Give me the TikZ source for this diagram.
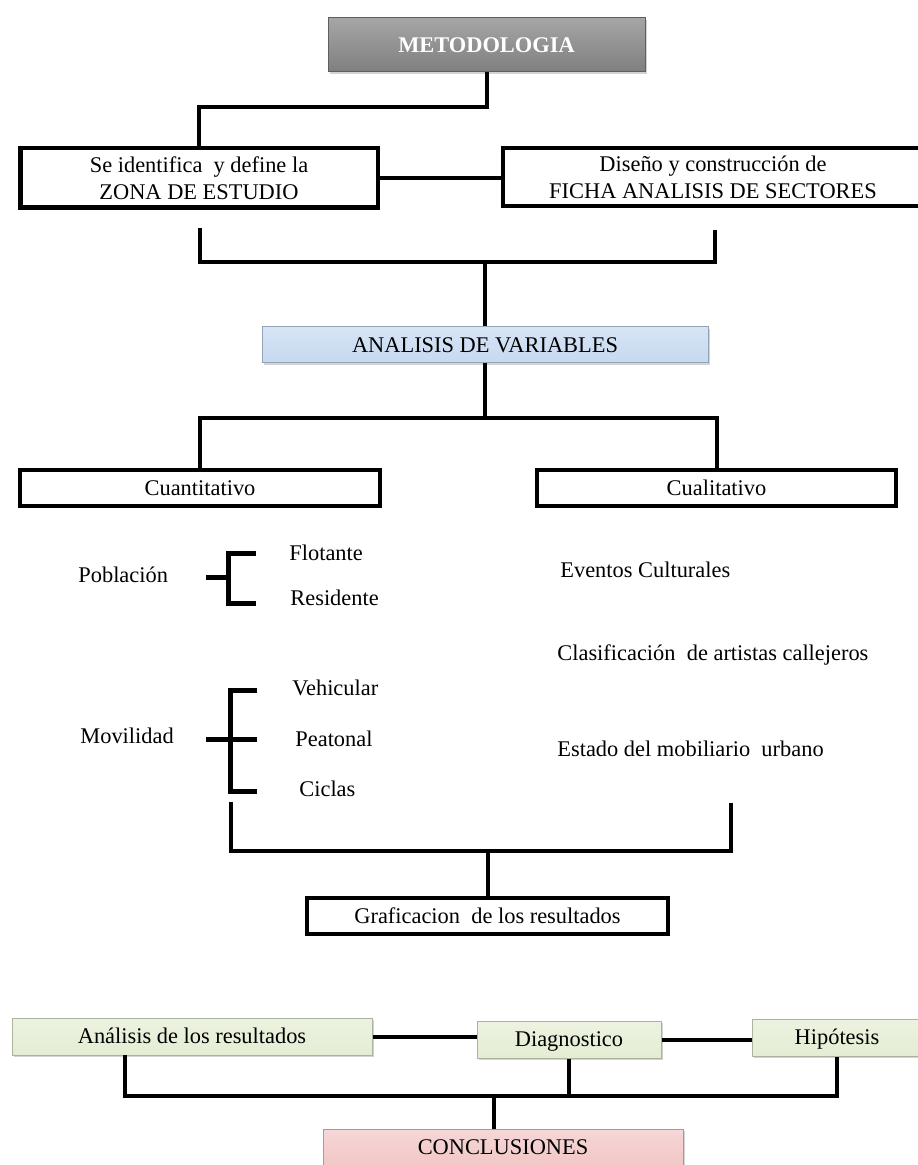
\documentclass[tikz,border=0pt]{standalone}
\usepackage{fontspec}
\setmainfont{Liberation Serif}
\usetikzlibrary{positioning,shadows}
\definecolor{gris}{HTML}{7F7F7F}
\definecolor{azul}{HTML}{C6D9F1}
\definecolor{verde}{HTML}{E4EDD3}
\definecolor{rosa}{HTML}{F2C6C6}
\tikzset{every node/.style={font=\fontsize{11.2}{13.6}\selectfont},
  sombra/.style={drop shadow={opacity=.35,shadow xshift=1.2pt,shadow yshift=-1.2pt}},
  linea/.style={text height=7.4pt,text depth=0pt},
  caja/.style={draw=black,line width=2.25pt,fill=white,inner sep=0pt,align=center,sombra},
  fondo/.style={draw=#1!75!black,line width=.5pt,top color=#1!70!white,bottom color=#1,inner sep=0pt,linea,sombra},
  wire/.style={line width=2pt,draw=black},
  llave/.style={line width=2.5pt,draw=black},
  texto/.style={anchor=west,inner sep=0pt}}

\begin{document}
\begin{tikzpicture}[x=.5pt,y=-.5pt]
\useasboundingbox (0,0) rectangle (917,1165);
\node[fondo=gris,text=white,font=\fontsize{11.2}{13.6}\selectfont\bfseries,minimum width=158.5pt,minimum height=27pt] (meto) at (486.5,45) {METODOLOGIA};
\node[caja,minimum width=178.75pt,minimum height=29.75pt] (zona) at (199,178) {Se identifica~ y define la\\ZONA DE ESTUDIO};
\node[caja,minimum width=210pt,minimum height=29pt] (ficha) at (713,177) {Diseño y construcción de\\FICHA ANALISIS DE SECTORES};
\draw[wire] (meto.south) -- ++(0,35) -| (zona.north);
\draw[wire] (zona.east) -- (zona.east -| ficha.west);
% primera llave
\coordinate (b1l) at (200,228);
\coordinate (b1r) at (715,230);
\coordinate (b1m) at (485,262);
\draw[wire] (b1l) |- (b1m) -| (b1r);
\node[fondo=azul,minimum width=223pt,minimum height=18pt] (avar) at (485,345) {ANALISIS DE VARIABLES};
\draw[wire] (b1m) -- (avar.north);
\node[caja,linea,minimum width=180pt,minimum height=18pt] (cuant) at (200,488) {Cuantitativo};
\node[caja,linea,minimum width=179.5pt,minimum height=18pt] (cual) at (716.5,488) {Cualitativo};
\coordinate (b2m) at (485,418);
\draw[wire] (avar.south) -- (b2m);
\draw[wire] (cuant.north) |- (b2m) -| (cual.north);
% cuantitativo
\node[texto] (pob) at (78,575) {Población};
\node[texto] (flot) at (289,553) {Flotante};
\node[texto] (resid) at (290,598) {Residente};
\draw[llave] (206,577) -- (228,577);
\draw[llave] (256,553) -- (228,553) -- (228,603) -- (256,603);
\node[texto] (movi) at (80,736) {Movilidad};
\node[texto] (vehi) at (292,688) {Vehicular};
\node[texto] (peat) at (295,739) {Peatonal};
\node[texto] (cicl) at (299,789) {Ciclas};
\draw[llave] (206,739) -- (257,739);
\draw[llave] (257,690) -- (230,690) -- (230,791) -- (257,791);
% cualitativo
\node[texto] (even) at (560,570) {Eventos Culturales};
\node[texto] (clas) at (557,655) {Clasificación~ de artistas callejeros};
\node[texto] (esta) at (557,749) {Estado del mobiliario~ urbano};
% segunda llave
\coordinate (b3l) at (231,802);
\coordinate (b3r) at (731,803);
\coordinate (b3m) at (487.5,851);
\draw[wire] (b3l) |- (b3m) -| (b3r);
\node[caja,linea,minimum width=180.5pt,minimum height=18pt] (graf) at (487.5,916) {Graficacion~ de los resultados};
\draw[wire] (b3m) -- (b3m |- graf.north);
% resultados
\node[fondo=verde,minimum width=180pt,minimum height=18.5pt] (anal) at (192,1036.5) {Análisis de los resultados};
\node[fondo=verde,minimum width=92pt,minimum height=18.5pt] (diag) at (569,1039.5) {Diagnostico};
\node[fondo=verde,minimum width=85pt,minimum height=18.5pt] (hipo) at (837,1037.5) {Hipótesis};
\draw[wire] (anal.east) -- (anal.east -| diag.west);
\draw[wire] (diag.east) -- (diag.east -| hipo.west);
\coordinate (b4l) at (125,1055);
\coordinate (b4m) at (494,1096);
\draw[wire] (b4l) |- (b4m) -| (hipo.south);
\draw[wire] (diag.south) -- (diag.south |- b4m);
\node[fondo=rosa,minimum width=180pt,minimum height=18.5pt] (concl) at (503,1147.5) {CONCLUSIONES};
\draw[wire] (b4m) -- (b4m |- concl.north);
\end{tikzpicture}
\end{document}
